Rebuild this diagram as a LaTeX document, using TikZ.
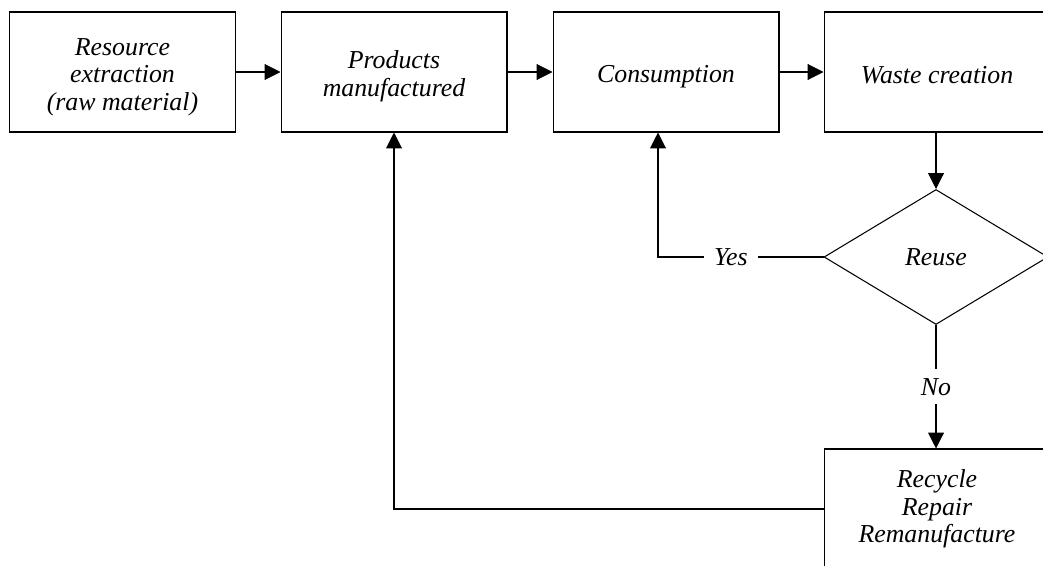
\documentclass[tikz,border=0pt]{standalone}
\usepackage{fontspec}
\setmainfont{Liberation Serif}
\usetikzlibrary{shapes.geometric,arrows.meta}
% keep the top row on one baseline grid
\newcommand{\uprule}{\rule{0pt}{15.4pt}}
\newcommand{\dnrule}{\rule[-2pt]{0pt}{2pt}}

\begin{document}
\begin{tikzpicture}[x=0.02cm,y=-0.02cm,
    box/.style={draw,line width=0.6pt,minimum width=4.52cm,minimum height=2.4cm,align=center,inner sep=2pt},
    decide/.style={draw,diamond,line width=0.6pt,minimum width=4.48cm,minimum height=2.7cm,inner sep=0pt},
    flow/.style={line width=0.6pt,-{Triangle[length=9pt,width=9pt]}},
    lbl/.style={fill=white,inner sep=6pt},
    font=\fontsize{14.7}{15.8}\selectfont\itshape]
  \clip (0,0) rectangle (1043,565);
  % top row
  \node[box] (res)   at (122.5,72) {\uprule Resource\\extraction\\(raw material)\dnrule};
  \node[box] (prod)  at (394,72)   {\uprule Products\\manufactured\dnrule};
  \node[box] (cons)  at (666,72)   {\uprule Consumption\dnrule};
  \node[box] (waste) at (937,72)   {\uprule Waste creation\dnrule};
  % decision and recovery
  \node[decide] (reuse) at (936,257) {Reuse};
  \node[box] (recyc) at (937,509) {Recycle\\Repair\\Remanufacture};
  \coordinate (yesbend) at (658,257);
  \draw[flow] (res) -- (prod);
  \draw[flow] (prod) -- (cons);
  \draw[flow] (cons) -- (waste);
  \draw[flow] (waste.south -| reuse.north) -- (reuse.north);
  \draw[flow] (reuse.west) -- node[lbl,pos=0.56] {Yes} (yesbend) -- (yesbend |- cons.south);
  \draw[flow] (reuse.south) -- node[lbl,inner sep=5pt] {No} (reuse.south |- recyc.north);
  \draw[flow] (recyc.west) -| (prod.south);
\end{tikzpicture}
\end{document}
